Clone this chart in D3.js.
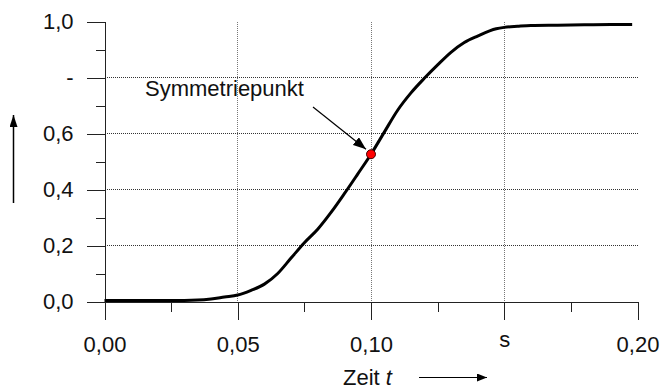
<!DOCTYPE html>
<html lang="de">
<head>
<meta charset="utf-8">
<title>Sprungantwort</title>
<script src="https://cdn.jsdelivr.net/npm/d3@7"></script>
<style>
  body { margin: 0; background: #fff; }
  svg { font-family: "Liberation Sans", Arial, sans-serif; }
  .grid line { stroke: #777; stroke-width: 1; stroke-dasharray: 1,1; shape-rendering: crispEdges; }
  .axis path, .axis line { stroke: #222; stroke-width: 1; shape-rendering: crispEdges; }
  .axis text { font-size: 22px; fill: #111; }
  .curve { fill: none; stroke: #000; stroke-width: 3; stroke-linejoin: round; }
</style>
</head>
<body>
<script>
// width and height
var w = 661, h = 389;

// data
var zeit =   [0, 0.01, 0.02, 0.03, 0.035, 0.04, 0.045, 0.05, 0.055, 0.06, 0.065, 0.07, 0.075, 0.08,
              0.085, 0.09, 0.095, 0.10, 0.105, 0.11, 0.115, 0.12, 0.125, 0.13, 0.135, 0.14, 0.147,
              0.15, 0.155, 0.16, 0.17, 0.18, 0.19, 0.198];
var wert =   [0.004, 0.004, 0.004, 0.004, 0.005, 0.009, 0.016, 0.023, 0.04, 0.062, 0.1, 0.155, 0.21, 0.258,
              0.318, 0.385, 0.455, 0.526, 0.605, 0.683, 0.745, 0.797, 0.845, 0.89, 0.925, 0.948, 0.974,
              0.979, 0.983, 0.986, 0.987, 0.988, 0.989, 0.989];
var symPunkt = { t: 0.10, v: 0.526 };

var xTicks = [0, 0.05, 0.10, 0.15, 0.20];
var xTickLabels = ["0,00", "0,05", "0,10", "s", "0,20"];
var xMinor = [0.025, 0.075, 0.125, 0.175];
var yTicks = [0, 0.2, 0.4, 0.6, 0.8, 1.0];
var yTickLabels = ["0,0", "0,2", "0,4", "0,6", "-", "1,0"];
var yMinor = [0.1, 0.3, 0.5, 0.7, 0.9];
var xGrid = [0.05, 0.10, 0.15];
var yGrid = [0.2, 0.4, 0.6, 0.8];

var xScale = d3.scaleLinear().domain([0, 0.2]).range([104.5, 637.5]);
var yScale = d3.scaleLinear().domain([0, 1]).range([301.5, 21.5]);

var svg = d3.select("body").append("svg")
  .attr("width", w)
  .attr("height", h);

// grid
var grid = svg.append("g").attr("class", "grid");
grid.selectAll(".gx").data(xGrid).enter().append("line")
  .attr("x1", function(d){ return xScale(d); })
  .attr("x2", function(d){ return xScale(d); })
  .attr("y1", yScale(1)).attr("y2", yScale(0));
grid.selectAll(".gy").data(yGrid).enter().append("line")
  .attr("x1", xScale(0)).attr("x2", xScale(0.2))
  .attr("y1", function(d){ return yScale(d); })
  .attr("y2", function(d){ return yScale(d); })
  .style("stroke", "#333");

// minor ticks
svg.append("g").attr("class", "axis")
  .attr("transform", "translate(0," + yScale(0) + ")")
  .call(d3.axisBottom(xScale).tickValues(xMinor).tickSize(10).tickSizeOuter(0).tickFormat(""))
  .select(".domain").remove();
svg.append("g").attr("class", "axis")
  .attr("transform", "translate(" + xScale(0) + ",0)")
  .call(d3.axisLeft(yScale).tickValues(yMinor).tickSize(9).tickSizeOuter(0).tickFormat(""))
  .select(".domain").remove();

// major axes
var xAxis = svg.append("g").attr("class", "axis")
  .attr("transform", "translate(0," + yScale(0) + ")")
  .call(d3.axisBottom(xScale).tickValues(xTicks).tickSize(18).tickSizeOuter(0).tickPadding(17)
    .tickFormat(function(d, i){ return xTickLabels[i]; }));
xAxis.selectAll("text").filter(function(d, i){ return xTickLabels[i] === "s"; })
  .attr("y", 30);

svg.append("g").attr("class", "axis")
  .attr("transform", "translate(" + xScale(0) + ",0)")
  .call(d3.axisLeft(yScale).tickValues(yTicks).tickSize(18).tickSizeOuter(0).tickPadding(13)
    .tickFormat(function(d, i){ return yTickLabels[i]; }));

// curve
var line = d3.line()
  .x(function(d, i){ return xScale(zeit[i]); })
  .y(function(d){ return yScale(d); })
  .curve(d3.curveMonotoneX);

svg.append("path")
  .datum(wert)
  .attr("class", "curve")
  .attr("d", line);

// arrow heads
var defs = svg.append("defs");
defs.append("marker").attr("id", "pfeil")
  .attr("viewBox", "0 0 10 8").attr("refX", 10).attr("refY", 4)
  .attr("markerWidth", 10).attr("markerHeight", 8)
  .attr("markerUnits", "userSpaceOnUse").attr("orient", "auto")
  .append("path").attr("d", "M0,0L10,4L0,8Z").attr("fill", "#000");
defs.append("marker").attr("id", "pfeil2")
  .attr("viewBox", "0 0 12 8").attr("refX", 12).attr("refY", 4)
  .attr("markerWidth", 12).attr("markerHeight", 8)
  .attr("markerUnits", "userSpaceOnUse").attr("orient", "auto")
  .append("path").attr("d", "M0,0L12,4L0,8Z").attr("fill", "#000");
defs.append("marker").attr("id", "pfeil3")
  .attr("viewBox", "0 0 13 10").attr("refX", 13).attr("refY", 5)
  .attr("markerWidth", 13).attr("markerHeight", 10)
  .attr("markerUnits", "userSpaceOnUse").attr("orient", "auto")
  .append("path").attr("d", "M0,0L13,5L0,10Z").attr("fill", "#000");

// annotation
svg.append("text")
  .attr("x", 145).attr("y", 96)
  .attr("font-size", 22).attr("fill", "#111")
  .text("Symmetriepunkt");
svg.append("line")
  .attr("x1", 313).attr("y1", 107)
  .attr("x2", xScale(symPunkt.t) - 5).attr("y2", yScale(symPunkt.v) - 5)
  .attr("stroke", "#000").attr("stroke-width", 1.2)
  .attr("marker-end", "url(#pfeil3)");
svg.append("circle")
  .attr("cx", xScale(symPunkt.t)).attr("cy", yScale(symPunkt.v))
  .attr("r", 4.5)
  .attr("fill", "#f00").attr("stroke", "#400").attr("stroke-width", 1);

// axis titles
var titel = svg.append("text")
  .attr("x", 343).attr("y", 385)
  .attr("font-size", 22).attr("fill", "#111");
titel.append("tspan").text("Zeit ");
titel.append("tspan").attr("font-style", "italic").text("t");
svg.append("line")
  .attr("x1", 419).attr("y1", 377.5).attr("x2", 487).attr("y2", 377.5)
  .attr("stroke", "#000").attr("stroke-width", 1.2)
  .attr("marker-end", "url(#pfeil)");
svg.append("line")
  .attr("x1", 13.5).attr("y1", 203).attr("x2", 13.5).attr("y2", 115)
  .attr("stroke", "#000").attr("stroke-width", 1.5)
  .attr("marker-end", "url(#pfeil2)");
</script>
</body>
</html>
